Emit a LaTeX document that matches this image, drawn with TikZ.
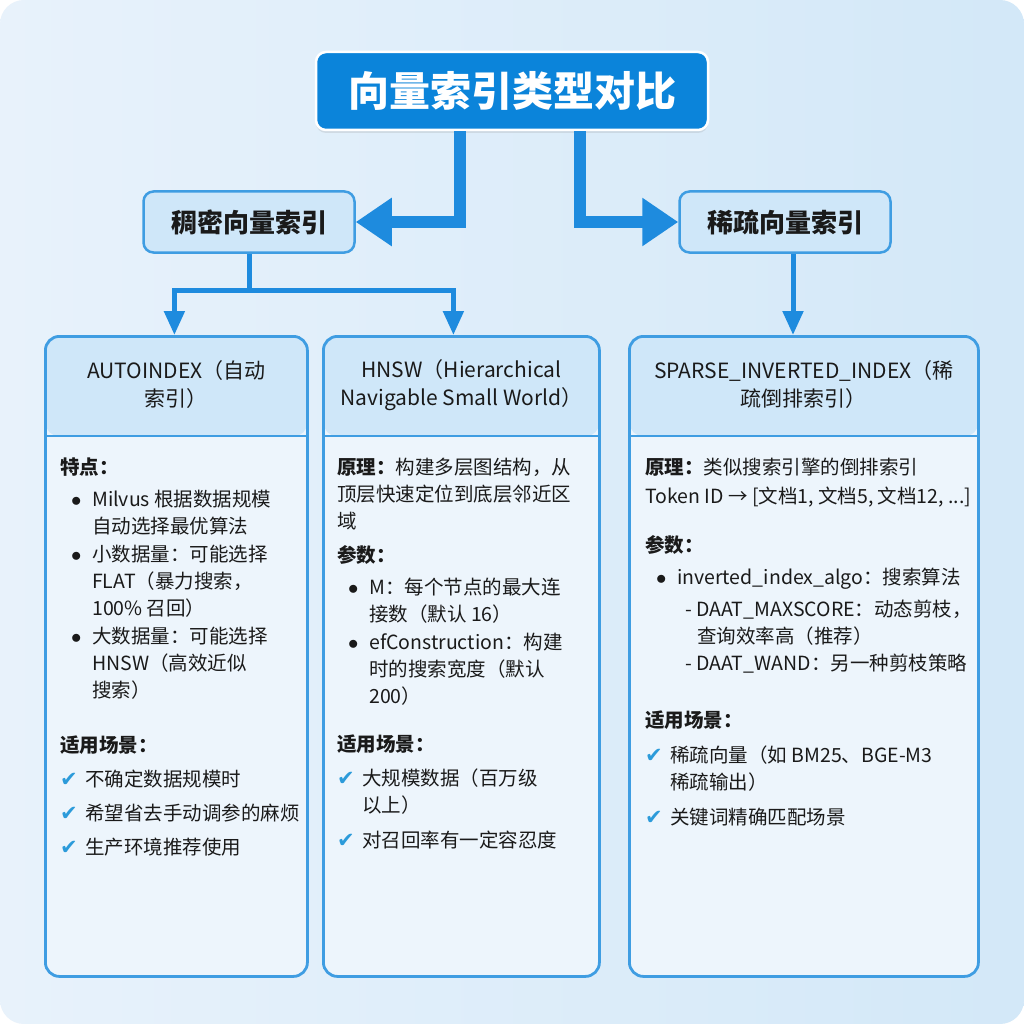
\documentclass[tikz,border=0pt]{standalone}
\usepackage{fontspec}
\setmainfont{Noto Sans CJK SC}
\newfontfamily\symfont{DejaVu Sans}
\usetikzlibrary{arrows.meta,positioning,shadows}

\definecolor{bgleft}{HTML}{E8F2FB}
\definecolor{bgright}{HTML}{D3E8F8}
\definecolor{titleblue}{HTML}{0B84DA}
\definecolor{arrowblue}{HTML}{1E8BDE}
\definecolor{cardline}{HTML}{3F9DE2}
\definecolor{cardhead}{HTML}{CFE7F9}
\definecolor{cardbody}{HTML}{EDF5FC}
\definecolor{checkblue}{HTML}{2C9BDA}
\definecolor{inktext}{HTML}{1A1A1A}

% list helpers
\newcommand\dotitem{\hspace*{11pt}\makebox[21pt][l]{$\bullet$}}
\newcommand\dotcont{\hspace*{32pt}}
\newcommand\tick{\makebox[25pt][l]{\color{checkblue}\fontsize{21}{27}\symfont ✔}}
\newcommand\tickcont{\hspace*{25pt}}

\tikzset{
  titlebox/.style={fill=titleblue, draw=white, line width=2.5pt, rounded corners=10pt,
    text=white, font=\fontsize{41}{48}\selectfont\bfseries,
    minimum width=392pt, minimum height=78pt,
    drop shadow={opacity=0.18, shadow xshift=0pt, shadow yshift=-3pt}},
  catbox/.style={fill=cardhead, draw=cardline, line width=2.5pt, rounded corners=10pt,
    text=inktext, font=\fontsize{26}{30}\selectfont\bfseries,
    minimum width=211pt, minimum height=61pt},
  card/.style={fill=cardbody, draw=cardline, line width=2.8pt, rounded corners=14pt,
    anchor=north west, inner sep=0pt, minimum height=640pt,
    path picture={
      \fill[cardhead] (path picture bounding box.north west) rectangle
        ([yshift=-100pt]path picture bounding box.north east);
      \draw[cardline, line width=2pt] ([yshift=-100pt]path picture bounding box.north west)
        -- ([yshift=-100pt]path picture bounding box.north east);}},
  headtext/.style={align=center, text=inktext, font=\fontsize{21}{28}\selectfont},
  bodytext/.style={align=left, anchor=north west, inner sep=0pt, text=inktext,
    font=\fontsize{19.5}{27}\selectfont},
  bigarrow/.style={draw=arrowblue, line width=12pt, -{Triangle[width=46pt,length=36pt]}},
  link/.style={draw=arrowblue, line width=5pt},
  linkarrow/.style={link, -{Triangle[width=20pt,length=24pt]}},
}

\begin{document}
\begin{tikzpicture}[x=1pt,y=-1pt]
\useasboundingbox (0,0) rectangle (1024,1024);
% background
\fill[white] (0,0) rectangle (1024,1024);
\shade[left color=bgleft, right color=bgright, rounded corners=24pt] (0,0) rectangle (1024,1024);

% top levels
\node[titlebox] (title) at (512,91) {向量索引类型对比};
\node[catbox] (dense) at (249,222) {稠密向量索引};
\node[catbox] (sparse) at (785,222) {稀疏向量索引};

% cards
\node[card, minimum width=262pt] (c1) at (44,335) {};
\node[card, minimum width=276pt] (c2) at (322,335) {};
\node[card, minimum width=349pt] (c3) at (628,335) {};

\node[headtext] (autohead) at ([yshift=-50pt]c1.north) {AUTOINDEX（自动\\索引）};
\node[headtext] (hnswhead) at ([yshift=-50pt]c2.north) {HNSW（Hierarchical\\Navigable Small World）};
\node[headtext] (sparsehead) at ([yshift=-50pt]c3.north) {SPARSE\_INVERTED\_INDEX（稀\\疏倒排索引）};

% card bodies
\node[bodytext] (autobody) at (60,458) {%
  \textbf{特点：}\\[5pt]
  \dotitem Milvus 根据数据规模\\
  \dotcont 自动选择最优算法\\[1pt]
  \dotitem 小数据量：可能选择\\
  \dotcont FLAT（暴力搜索，\\
  \dotcont 100\% 召回）\\[1pt]
  \dotitem 大数据量：可能选择\\
  \dotcont HNSW（高效近似\\
  \dotcont 搜索）\\[28pt]
  \textbf{适用场景：}\\[7pt]
  \tick 不确定数据规模时\\[7pt]
  \tick 希望省去手动调参的麻烦\\[7pt]
  \tick 生产环境推荐使用};

\node[bodytext] (hnswbody) at (337,458) {%
  \textbf{原理：}构建多层图结构，从\\
  顶层快速定位到底层邻近区\\
  域\\[7pt]
  \textbf{参数：}\\[5pt]
  \dotitem M：每个节点的最大连\\
  \dotcont 接数（默认 16）\\[1pt]
  \dotitem efConstruction：构建\\
  \dotcont 时的搜索宽度（默认\\
  \dotcont 200）\\[21pt]
  \textbf{适用场景：}\\[7pt]
  \tick 大规模数据（百万级\\
  \tickcont 以上）\\[8pt]
  \tick 对召回率有一定容忍度};

\node[bodytext] (sparsebody) at (645,458) {%
  \textbf{原理：}类似搜索引擎的倒排索引\\[2pt]
  Token ID → [文档1, 文档5, 文档12, ...]\\[22pt]
  \textbf{参数：}\\[5pt]
  \dotitem inverted\_index\_algo：搜索算法\\[5pt]
  \hspace*{40pt}- DAAT\_MAXSCORE：动态剪枝，\\
  \hspace*{52pt}查询效率高（推荐）\\
  \hspace*{40pt}- DAAT\_WAND：另一种剪枝策略\\[30pt]
  \textbf{适用场景：}\\[8pt]
  \tick 稀疏向量（如 BM25、BGE-M3\\
  \tickcont 稀疏输出）\\[8pt]
  \tick 关键词精确匹配场景};

% connectors
\draw[bigarrow] ([xshift=-52pt]title.south) |- (dense.east);
\draw[bigarrow] ([xshift=68pt]title.south) |- (sparse.west);
\coordinate (fork) at (249,290);
\draw[link] (dense.south) -- (fork);
\draw[linkarrow] (fork) -| ([xshift=-2pt]c1.north);
\draw[linkarrow] (fork) -| ([xshift=-8pt]c2.north);
\draw[linkarrow] ([xshift=8pt]sparse.south) -- ([xshift=8pt]sparse.south |- c3.north);
\end{tikzpicture}
\end{document}
